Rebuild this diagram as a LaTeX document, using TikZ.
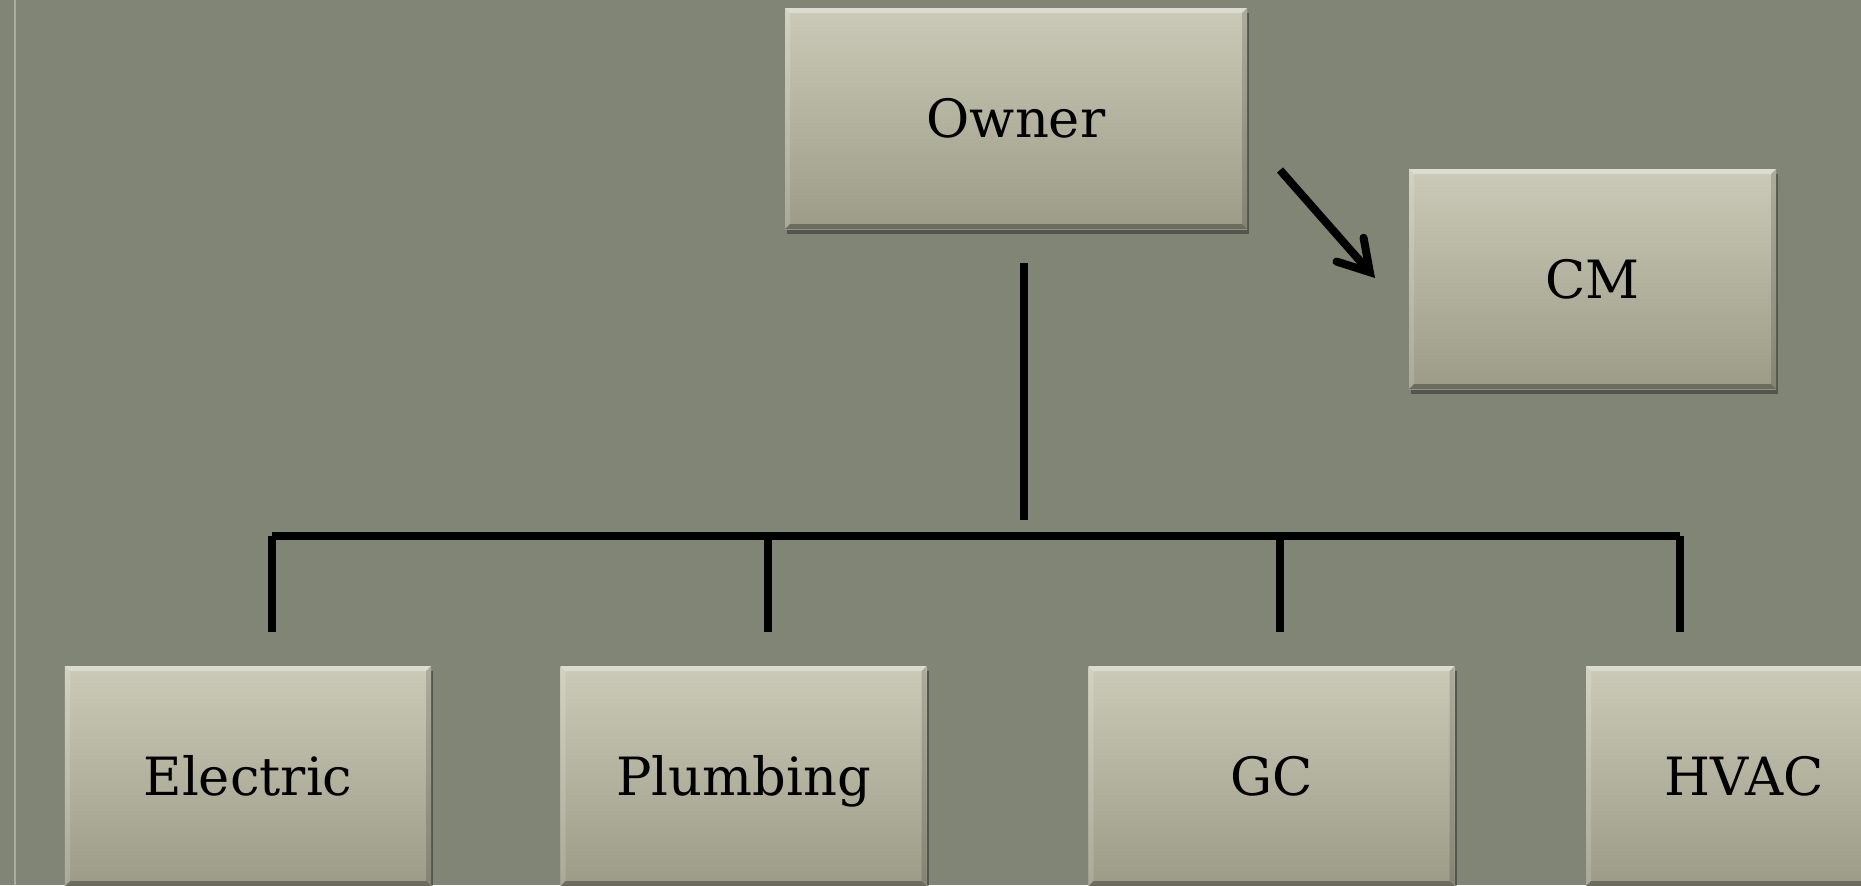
\documentclass[tikz,border=0pt]{standalone}
\usepackage{fontspec}
\setmainfont{DejaVu Serif}
\usetikzlibrary{shadows,arrows.meta}
\definecolor{bgc}{RGB}{128,133,117}
\definecolor{boxtop}{RGB}{203,202,184}
\definecolor{boxbot}{RGB}{156,155,136}
\definecolor{stripe}{RGB}{170,175,156}
\tikzset{
  orgbox/.style={rectangle, inner sep=0pt, top color=boxtop, bottom color=boxbot,
    minimum width=3.66cm, minimum height=2.20cm,
    font=\fontsize{15}{18}\selectfont, text=black,
    text height=10.9pt, text depth=0pt,
    drop shadow={shadow xshift=0.02cm, shadow yshift=-0.05cm, opacity=0.35, fill=black},
    path picture={
      \coordinate (pnw) at (path picture bounding box.north west);
      \coordinate (pse) at (path picture bounding box.south east);
      \coordinate (pne) at (pnw -| pse);
      \coordinate (psw) at (pnw |- pse);
      \fill[white,opacity=0.35] (pnw) -- (pne) -- ([shift={(-0.05,-0.05)}]pne) -- ([shift={(0.05,-0.05)}]pnw) -- cycle;
      \fill[white,opacity=0.15] (pnw) -- (psw) -- ([shift={(0.05,0.05)}]psw) -- ([shift={(0.05,-0.05)}]pnw) -- cycle;
      \fill[black,opacity=0.15] (pne) -- (pse) -- ([shift={(-0.05,0.05)}]pse) -- ([shift={(-0.05,-0.05)}]pne) -- cycle;
      \fill[black,opacity=0.30] (psw) -- (pse) -- ([shift={(-0.05,0.05)}]pse) -- ([shift={(0.05,0.05)}]psw) -- cycle;
    }},
  conn/.style={draw=black, line width=0.08cm},
}
\begin{document}
\begin{tikzpicture}
\useasboundingbox (0,0) rectangle (18.61,-8.85);
\clip (0,0) rectangle (18.61,-8.85);
\fill[bgc] (0,0) rectangle (18.61,-8.85);
\fill[stripe] (0.14,0) rectangle (0.16,-8.85);

% boxes
\node[orgbox, minimum width=4.62cm, minimum height=2.21cm] (owner) at (10.16,-1.185) {Owner};
\node[orgbox, minimum width=3.67cm] (cm) at (15.925,-2.79) {CM};
\node[orgbox] (elec) at (2.48,-7.76) {Electric};
\node[orgbox] (plumb) at (7.435,-7.76) {Plumbing};
\node[orgbox] (gc) at (12.715,-7.76) {GC};
\node[orgbox] (hvac) at (17.69,-7.76) {HVAC\hspace*{0.5cm}};

% connector ends
\coordinate (ownS) at (10.24,-2.63);
\coordinate (ownE) at (10.24,-5.20);
\coordinate (busL) at (2.72,-5.36);
\coordinate (busR) at (16.80,-5.36);
\coordinate (dE) at (2.72,-6.32);
\coordinate (dP) at (7.68,-6.32);
\coordinate (dG) at (12.80,-6.32);
\coordinate (dH) at (16.80,-6.32);
\coordinate (aS) at (12.80,-1.70);
\coordinate (aT) at (13.75,-2.78);

\draw[conn] (ownS) -- (ownE);
\draw[conn] (busL) -- (busR);
\draw[conn] (busL) -- (dE);
\draw[conn] (busL -| dP) -- (dP);
\draw[conn] (busL -| dG) -- (dG);
\draw[conn] (busR) -- (dH);
\draw[conn, -{Straight Barb[length=0.3cm, width=0.36cm, line cap=round]}] (aS) -- (aT);
\end{tikzpicture}
\end{document}
